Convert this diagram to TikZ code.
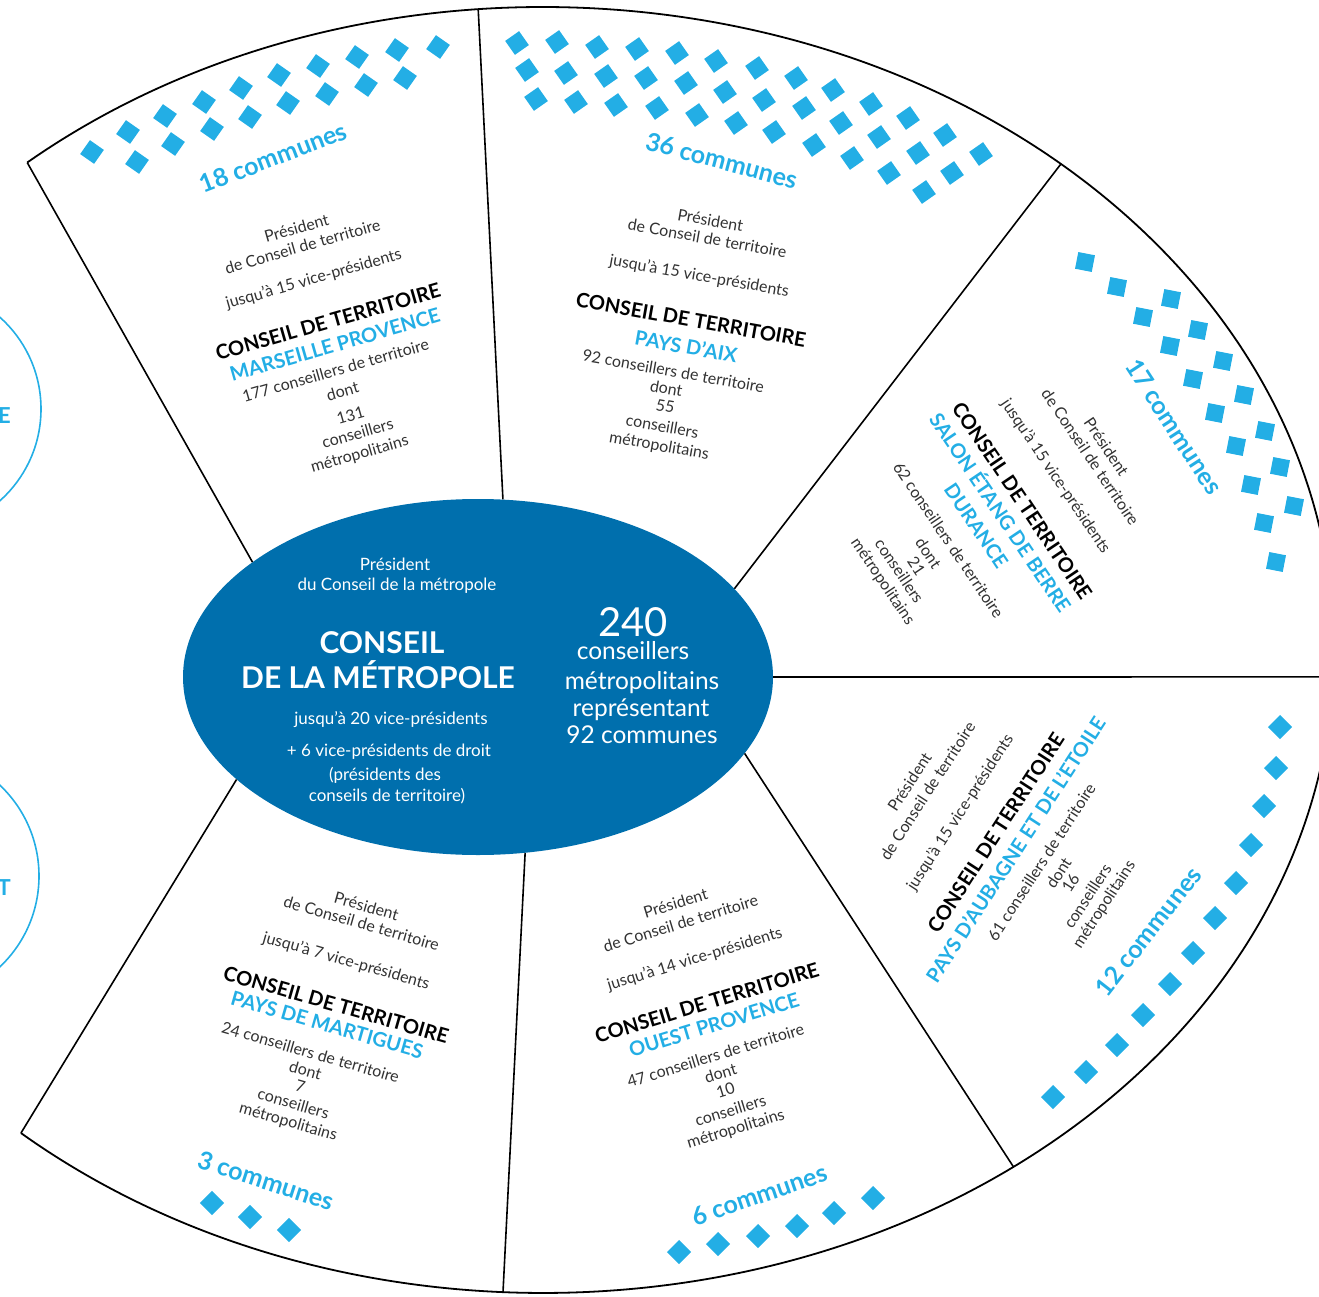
\documentclass[tikz,border=0pt]{standalone}
\usepackage{fontspec}
\setmainfont{Lato}
\usetikzlibrary{calc,shapes.geometric}
\definecolor{MetroBlue}{RGB}{0,111,173}
\definecolor{Sky}{RGB}{35,174,229}
\definecolor{Ink}{RGB}{50,50,50}
\tikzset{
  rim/.style={draw=black,line width=1.8pt},
  spoke/.style={draw=black,line width=1.6pt},
  ring/.style={draw=Sky,line width=1.6pt},
  tile/.style={fill=Sky},
  info/.style={font=\fontsize{16}{18}\selectfont,text=Ink,inner sep=0pt,text height=11pt,text depth=3pt},
  head/.style={font=\bfseries\fontsize{20}{22}\selectfont,text=black,inner sep=0pt,text height=14pt,text depth=0pt},
  terr/.style={head,text=Sky},
  tally/.style={font=\bfseries\fontsize{25}{28}\selectfont,text=Sky,inner sep=0pt,text height=18pt,text depth=5pt},
  metroinfo/.style={info,font=\fontsize{17}{19}\selectfont,text=white,text height=12pt},
  metrohead/.style={font=\bfseries\fontsize{30}{34}\selectfont,text=white,inner sep=0pt,text height=22pt,text depth=0pt},
  metronum/.style={font=\fontsize{24.5}{28}\selectfont,text=white,inner sep=0pt,text height=17pt,text depth=5pt},
  ringtxt/.style={font=\bfseries\fontsize{22}{24}\selectfont,text=Sky,inner sep=0pt,anchor=east}
}

\begin{document}
\begin{tikzpicture}[x=1pt,y=1pt]
  \useasboundingbox (0,0) rectangle (1319,-1297);
  \clip (0,0) rectangle (1319,-1297);
  \coordinate (rimc) at (543,-650);
  \foreach \a/\n in {130.7/o1,94.7/o2,49.1/o3,-2.4/o4,-53.5/o5,-92.9/o6,-131.3/o7}
    \coordinate (\n) at ($(rimc)+(\a:791pt and 643pt)$);

  \node[ellipse,fill=MetroBlue,minimum width=590pt,minimum height=356pt,inner sep=0pt] (metro) at (478,-677) {};
  \draw[rim] (o1) arc[start angle=130.7,end angle=-131.3,x radius=791pt,y radius=643pt];
  \foreach \n/\a in {o1/153.8,o2/82,o3/19.2,o4/0,o5/-16.8,o6/-75.2,o7/-157.7}
    \draw[spoke] (\n) -- (metro.\a);

  % cut-off rings on the left
  \draw[ring] (-82,-409) circle[radius=123pt];
  \draw[ring] (-86,-876) circle[radius=125pt];
  \node[ringtxt] (ringE) at (11,-416) {E};
  \node[ringtxt] (ringT) at (11,-888) {T};

  % communes
  \foreach \x/\y in {92/152,128/132,165/116,204/102,241/88,279/75,318/66,357/57,397/50,438/47,
                     137/162,173/144,212/129,250/117,288/103,327/94,366/85,405/78}
    \fill[tile,shift={(\x,-\y)},rotate=55] (-8.5,-8.5) rectangle (8.5,8.5);
  \foreach \x/\y in {517/43,557/42,597/47,637/49,677/53,716/61,757/68,796/78,833/90,871/104,908/118,945/135,981/154,
                     527/70,566/73,606/76,646/78,686/83,725/92,764/100,804/108,841/123,879/137,918/153,952/173,
                     536/99,576/102,616/105,657/108,697/115,736/123,774/132,814/145,852/158,889/173,924/192}
    \fill[tile,shift={(\x,-\y)},rotate=35] (-8.5,-8.5) rectangle (8.5,8.5);
  \foreach \x/\y in {1085/262,1117/287,1171/299,1143/317,1198/330,1170/346,1223/361,1193/379,1244/395,
                     1215/413,1265/431,1236/446,1280/467,1251/485,1294/506,1264/523,1276/562}
    \fill[tile,shift={(\x,-\y)},rotate=-11] (-8.5,-8.5) rectangle (8.5,8.5);
  \foreach \x/\y in {1280/727,1276/768,1264/806,1251/845,1236/883,1215/918,1193/953,1170/984,1143/1015,1117/1045,1086/1072,1053/1097}
    \fill[tile,shift={(\x,-\y)},rotate=45] (-8.5,-8.5) rectangle (8.5,8.5);
  \foreach \x/\y in {679/1252,718/1244,758/1236,797/1226,834/1213,873/1198}
    \fill[tile,shift={(\x,-\y)},rotate=45] (-8.5,-8.5) rectangle (8.5,8.5);
  \foreach \x/\y in {212/1203,250/1217,289/1230}
    \fill[tile,shift={(\x,-\y)},rotate=45] (-8.5,-8.5) rectangle (8.5,8.5);

  % centre
  \node[metroinfo] (mtPres) at (395,-566) {Président};
  \node[metroinfo] (mtDu) at (397,-586) {du Conseil de la métropole};
  \node[metrohead] (mtHead) at (382,-642) {CONSEIL};
  \node[metrohead] (mtHeadB) at (378,-677) {DE LA MÉTROPOLE};
  \node[metroinfo] (mtVice) at (391,-720) {jusqu'à 20 vice-présidents};
  \node[metroinfo] (mtDroit) at (389,-752) {+ 6 vice-présidents de droit};
  \node[metroinfo] (mtPdes) at (385,-776) {(présidents des};
  \node[metroinfo] (mtCt) at (387,-797) {conseils de territoire)};
  \node[metronum,font=\fontsize{40}{44}\selectfont,text height=29pt,text depth=0pt] (mtNum) at (633,-622) {240};
  \node[metronum] (mtCons) at (633,-653) {conseillers};
  \node[metronum] (mtMet) at (642,-683) {métropolitains};
  \node[metronum] (mtRep) at (641,-710) {représentant};
  \node[metronum] (mtComm) at (642,-737) {92 communes};

  % Marseille Provence
  \begin{scope}[every node/.append style={rotate=16}]
    \node[info] (mpPres) at (297,-230) {Président};
    \node[info] (mpCons) at (303,-248) {de Conseil de territoire};
    \node[info] (mpVice) at (314,-280) {jusqu'à 15 vice-présidents};
    \node[head] (mpHead) at (328,-322) {CONSEIL DE TERRITOIRE};
    \node[terr] (mpName) at (335,-345) {MARSEILLE PROVENCE};
    \node[info] (mpTot) at (336,-372) {177 conseillers de territoire};
    \node[info] (mpDont) at (343,-393) {dont};
    \node[info] (mpNum) at (351,-417) {131};
    \node[info] (mpCm) at (358,-435) {conseillers};
    \node[info] (mpMet) at (360,-455) {métropolitains};
  \end{scope}
  \node[tally,rotate=21] (mpComm) at (274,-160) {18 communes};

  % Pays d'Aix
  \begin{scope}[every node/.append style={rotate=-10}]
    \node[info] (pxPres) at (710,-222) {Président};
    \node[info] (pxCons) at (707,-240) {de Conseil de territoire};
    \node[info] (pxVice) at (699,-277) {jusqu'à 15 vice-présidents};
    \node[head] (pxHead) at (691,-320) {CONSEIL DE TERRITOIRE};
    \node[terr] (pxName) at (686,-347) {PAYS D'AIX};
    \node[info] (pxTot) at (673,-373) {92 conseillers de territoire};
    \node[info] (pxDont) at (666,-390) {dont};
    \node[info] (pxNum) at (665,-408) {55};
    \node[info] (pxCm) at (662,-428) {conseillers};
    \node[info] (pxMet) at (659,-447) {métropolitains};
  \end{scope}
  \node[tally,rotate=-15] (pxComm) at (721,-163) {36 communes};

  % Salon Etang de Berre Durance
  \begin{scope}[every node/.append style={rotate=-56}]
    \node[info] (sbPres) at (1105,-448) {Président};
    \node[info] (sbCons) at (1089,-458) {de Conseil de territoire};
    \node[info] (sbVice) at (1055,-477) {jusqu'à 15 vice-présidents};
    \node[head] (sbHead) at (1022,-501) {CONSEIL DE TERRITOIRE};
    \node[terr] (sbName) at (1000,-513) {SALON ÉTANG DE BERRE};
    \node[terr] (sbNameB) at (976,-526) {DURANCE};
    \node[info] (sbTot) at (947,-541) {62 conseillers de territoire};
    \node[info] (sbDont) at (927,-554) {dont};
    \node[info] (sbNum) at (915,-567) {21};
    \node[info] (sbCm) at (898,-572) {conseillers};
    \node[info] (sbMet) at (882,-582) {métropolitains};
  \end{scope}
  \node[tally,rotate=-57] (sbComm) at (1172,-428) {17 communes};

  % Pays d'Aubagne et de l'Etoile
  \begin{scope}[every node/.append style={rotate=57}]
    \node[info] (auPres) at (911,-783) {Président};
    \node[info] (auCons) at (929,-792) {de Conseil de territoire};
    \node[info] (auVice) at (961,-813) {jusqu'à 15 vice-présidents};
    \node[head] (auHead) at (996,-833) {CONSEIL DE TERRITOIRE};
    \node[terr] (auName) at (1016,-850) {PAYS D'AUBAGNE ET DE L'ETOILE};
    \node[info] (auTot) at (1043,-863) {61 conseillers de territoire};
    \node[info] (auDont) at (1060,-874) {dont};
    \node[info] (auNum) at (1072,-884) {16};
    \node[info] (auCm) at (1089,-897) {conseillers};
    \node[info] (auMet) at (1105,-905) {métropolitains};
  \end{scope}
  \node[tally,rotate=52] (auComm) at (1150,-933) {12 communes};

  % Ouest Provence
  \begin{scope}[every node/.append style={rotate=17}]
    \node[info] (opPres) at (676,-905) {Président};
    \node[info] (opCons) at (681,-925) {de Conseil de territoire};
    \node[info] (opVice) at (695,-960) {jusqu'à 14 vice-présidents};
    \node[head] (opHead) at (707,-1003) {CONSEIL DE TERRITOIRE};
    \node[terr] (opName) at (714,-1025) {OUEST PROVENCE};
    \node[info] (opTot) at (716,-1057) {47 conseillers de territoire};
    \node[info] (opDont) at (721,-1075) {dont};
    \node[info] (opNum) at (726,-1092) {10};
    \node[info] (opCm) at (731,-1112) {conseillers};
    \node[info] (opMet) at (736,-1130) {métropolitains};
  \end{scope}
  \node[tally,rotate=19] (opComm) at (760,-1197) {6 communes};

  % Pays de Martigues
  \begin{scope}[every node/.append style={rotate=-16}]
    \node[info] (maPres) at (366,-908) {Président};
    \node[info] (maCons) at (361,-925) {de Conseil de territoire};
    \node[info] (maVice) at (346,-962) {jusqu'à 7 vice-présidents};
    \node[head] (maHead) at (336,-1005) {CONSEIL DE TERRITOIRE};
    \node[terr] (maName) at (327,-1025) {PAYS DE MARTIGUES};
    \node[info] (maTot) at (310,-1054) {24 conseillers de territoire};
    \node[info] (maDont) at (305,-1072) {dont};
    \node[info] (maNum) at (300,-1088) {7};
    \node[info] (maCm) at (293,-1105) {conseillers};
    \node[info] (maMet) at (288,-1123) {métropolitains};
  \end{scope}
  \node[tally,rotate=-18] (maComm) at (265,-1183) {3 communes};
\end{tikzpicture}
\end{document}
